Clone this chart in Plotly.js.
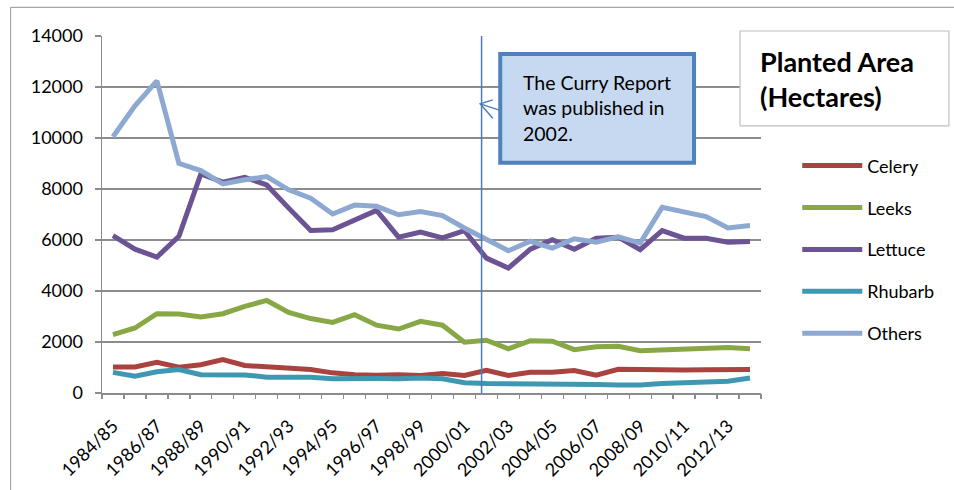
<!DOCTYPE html>
<html>
<head>
<meta charset="utf-8">
<script src="https://cdn.plot.ly/plotly-3.0.1.min.js"></script>
<style>
  html, body { margin: 0; padding: 0; background: #ffffff; }
  #chart { width: 954px; height: 490px; }
</style>
</head>
<body>
<div id="chart"></div>
<script>
const seasons = ["1984/85","1985/86","1986/87","1987/88","1988/89","1989/90","1990/91","1991/92","1992/93","1993/94",
                 "1994/95","1995/96","1996/97","1997/98","1998/99","1999/00","2000/01","2001/02","2002/03","2003/04",
                 "2004/05","2005/06","2006/07","2007/08","2008/09","2009/10","2010/11","2011/12","2012/13","2013/14"];
const tickLabels = ["1984/85","","1986/87","","1988/89","","1990/91","","1992/93","",
                    "1994/95","","1996/97","","1998/99","","2000/01","","2002/03","",
                    "2004/05","","2006/07","","2008/09","","2010/11","","2012/13",""];
const celery  = [1020,1020,1200,1010,1110,1310,1080,1040,970,920,790,720,700,720,690,760,690,890,690,810,810,880,700,930,920,900,900,910,910,920];
const leeks   = [2290,2550,3110,3100,2980,3110,3400,3630,3160,2920,2770,3070,2660,2510,2810,2660,1990,2070,1730,2050,2030,1700,1810,1830,1660,1700,1730,1740,1780,1740];
const lettuce = [6170,5640,5330,6140,8590,8270,8460,8160,7250,6370,6400,6770,7160,6110,6310,6080,6370,5290,4900,5640,6010,5640,6070,6110,5620,6370,6070,6070,5910,5940];
const rhubarb = [810,660,830,920,720,700,710,620,620,620,560,580,570,560,590,560,400,370,370,350,360,350,330,310,310,370,400,410,460,590];
const others  = [10050,11260,12240,9010,8720,8200,8360,8490,7970,7640,7020,7370,7320,6990,7120,6960,6470,6050,5580,5950,5680,6050,5910,6120,5880,7280,7080,6920,6470,6570];

const seriesNames = ["Celery","Leeks","Lettuce","Rhubarb","Others"];
const seriesData = [celery, leeks, lettuce, rhubarb, others];
const seriesColors = ["#aa4340","#88a846","#6b5394","#3f98b1","#8da9d1"];

const FONT = "Lato, 'Open Sans', sans-serif";

const traces = seriesNames.map((name, i) => ({
  type: "scatter",
  mode: "lines",
  name: name,
  x: seasons,
  y: seriesData[i],
  legendgroup: "g" + i,
  line: { color: seriesColors[i], width: 5 }
}));

// carrier (draws nothing) so the tick-mark axis x2 gets drawn with the same categories
traces.push({
  type: "scatter",
  mode: "none",
  x: seasons,
  y: celery,
  xaxis: "x2",
  yaxis: "y",
  showlegend: false,
  hoverinfo: "skip"
});

const layout = {
  width: 954,
  height: 490,
  margin: { l: 101.5, r: 193, t: 36, b: 96.5, pad: 0 },
  paper_bgcolor: "#ffffff",
  plot_bgcolor: "#ffffff",
  font: { family: FONT, size: 18, color: "#000000" },
  showlegend: true,
  legend: {
    x: 1.055, xanchor: "left",
    y: 0.688, yanchor: "top",
    bgcolor: "rgba(0,0,0,0)",
    font: { family: FONT, size: 18, color: "#000000" },
    itemwidth: 60,
    tracegroupgap: 15.5
  },
  xaxis: {
    type: "category",
    range: [-0.5, 29.5],
    tickmode: "array",
    tickvals: seasons,
    ticktext: tickLabels,
    ticks: "outside",
    ticklen: 14,
    tickcolor: "rgba(0,0,0,0)",
    tickangle: -45,
    tickfont: { family: FONT, size: 18, color: "#000000" },
    showgrid: false,
    showline: true,
    linecolor: "#8c8c8c",
    linewidth: 1.5,
    zeroline: false
  },
  xaxis2: {
    overlaying: "x",
    anchor: "y",
    side: "bottom",
    type: "category",
    range: [-0.5, 29.5],
    tickmode: "array",
    tickvals: seasons,
    tickson: "boundaries",
    ticks: "outside",
    ticklen: 5,
    tickwidth: 1.3,
    tickcolor: "#8c8c8c",
    showticklabels: false,
    showgrid: false,
    showline: false,
    zeroline: false
  },
  yaxis: {
    range: [0, 14000],
    dtick: 2000,
    tick0: 0,
    tickformat: "d",
    ticks: "outside",
    ticklen: 6,
    tickwidth: 1.3,
    tickcolor: "#8c8c8c",
    tickfont: { family: FONT, size: 18, color: "#000000" },
    showgrid: true,
    gridcolor: "#8c8c8c",
    gridwidth: 1.3,
    showline: true,
    linecolor: "#8c8c8c",
    linewidth: 1.5,
    zeroline: false,
    ticklabelstandoff: 8
  },
  shapes: [
    { type: "line", xref: "paper", yref: "paper", x0: -0.1387, x1: -0.1387, y0: -0.3, y1: 1.0803,
      line: { color: "#a6a6a6", width: 1.2 } },
    { type: "line", xref: "paper", yref: "paper", x0: -0.1387, x1: 1.3, y0: 1.0803, y1: 1.0803,
      line: { color: "#a6a6a6", width: 1.2 } },
    { type: "line", xref: "x", yref: "paper", x0: 16.78, x1: 16.78, y0: 0, y1: 1,
      line: { color: "#4a7ebb", width: 1.5 } },
    { type: "path", xref: "paper", yref: "paper",
      path: "M 0.6043 0.7916 L 0.5739 0.8098 M 0.5930 0.8210 L 0.5739 0.8098 L 0.5930 0.7698",
      line: { color: "#4a7ebb", width: 1.5 } },
    { type: "rect", xref: "paper", yref: "paper", x0: 0.6043, x1: 0.8984, y0: 0.6448, y1: 0.9497,
      fillcolor: "#c6d9f1", line: { color: "#4f81bd", width: 4 }, layer: "above" },
    { type: "rect", xref: "paper", yref: "paper", x0: 0.9682, x1: 1.2851, y0: 0.7483, y1: 1.0140,
      fillcolor: "#ffffff", line: { color: "#c0c0c0", width: 1.2 }, layer: "above" }
  ],
  annotations: [
    { xref: "paper", yref: "paper", x: 0.6361, y: 0.797, xanchor: "left", yanchor: "middle",
      align: "left", showarrow: false,
      text: "The Curry Report<br>was published in<br>2002.",
      font: { family: FONT, size: 19.5, color: "#000000" } },
    { xref: "paper", yref: "paper", x: 0.9955, y: 0.879, xanchor: "left", yanchor: "middle",
      align: "left", showarrow: false,
      text: "<b>Planted Area<br>(Hectares)</b>",
      font: { family: FONT, size: 27, color: "#000000" } }
  ]
};

Plotly.newPlot("chart", traces, layout, { staticPlot: true, displayModeBar: false });
</script>
</body>
</html>
